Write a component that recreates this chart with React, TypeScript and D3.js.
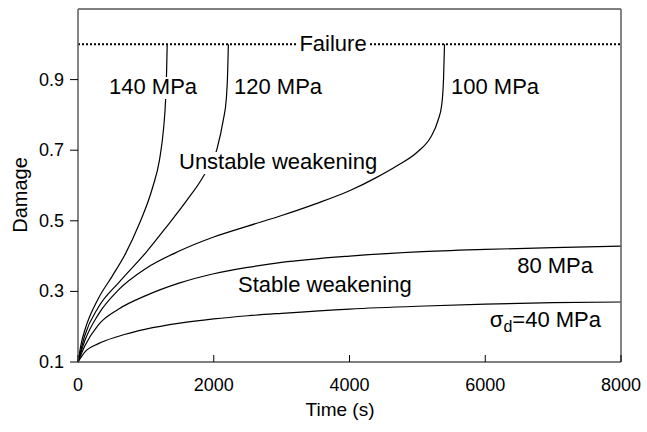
import * as d3 from 'd3'

const W = 647
const H = 432

// time (s) / damage pairs, one array per stress level
const t40 = [0, 100, 300, 600, 1000, 1500, 2000, 2500, 3000, 4000, 5000, 6000, 7000, 8000]
const d40 = [0.1, 0.128, 0.152, 0.173, 0.193, 0.21, 0.222, 0.231, 0.238, 0.25, 0.258, 0.264, 0.268, 0.27]

const t80 = [0, 100, 300, 600, 1000, 1500, 2000, 2500, 3000, 4000, 5000, 6000, 7000, 8000]
const d80 = [0.1, 0.145, 0.205, 0.25, 0.288, 0.324, 0.35, 0.368, 0.382, 0.4, 0.412, 0.419, 0.424, 0.428]

const t100 = [0, 100, 300, 600, 1000, 1500, 2000, 2500, 3000, 3500, 4000, 4400, 4700, 5000, 5200, 5300, 5360, 5385, 5400]
const d100 = [0.1, 0.16, 0.235, 0.305, 0.365, 0.415, 0.454, 0.485, 0.515, 0.548, 0.585, 0.623, 0.656, 0.695, 0.738, 0.782, 0.83, 0.9, 1.0]

const t120 = [0, 100, 300, 600, 1000, 1300, 1600, 1850, 2050, 2140, 2185, 2205, 2215]
const d120 = [0.1, 0.175, 0.255, 0.325, 0.41, 0.482, 0.557, 0.627, 0.705, 0.785, 0.845, 0.92, 1.0]

const t140 = [0, 50, 100, 300, 500, 700, 900, 1100, 1200, 1260, 1290, 1305, 1314]
const d140 = [0.1, 0.155, 0.19, 0.28, 0.342, 0.407, 0.49, 0.595, 0.672, 0.76, 0.84, 0.92, 1.0]

const failure = 1.0
const xTicks = [0, 2000, 4000, 6000, 8000]
const yTicks = [0.1, 0.3, 0.5, 0.7, 0.9]

const series = [
  { t: t40, d: d40 },
  { t: t80, d: d80 },
  { t: t100, d: d100 },
  { t: t120, d: d120 },
  { t: t140, d: d140 },
]

const FONT = '"Liberation Sans", Arial, sans-serif'

export default function App() {
  const left = 78, right = 621, top = 9, bottom = 362
  const x = d3.scaleLinear().domain([0, 8000]).range([left, right])
  const y = d3.scaleLinear().domain([0.1, 1.1]).range([bottom, top])

  const line = d3.line<[number, number]>()
    .x(p => x(p[0]))
    .y(p => y(p[1]))
    .curve(d3.curveMonotoneX)

  return (
    <svg width={W} height={H} style={{ position: 'absolute', left: 0, top: 0, background: '#fff' }}
      fontFamily={FONT}>
      <rect x={0} y={0} width={W} height={H} fill="#fff" />

      {/* curves */}
      {series.map((s, i) => (
        <path key={i} d={line(s.t.map((v, j) => [v, s.d[j]] as [number, number])) ?? ''}
          fill="none" stroke="#000" strokeWidth={1.2} />
      ))}

      {/* failure line */}
      <line x1={x(0)} x2={x(8000)} y1={y(failure)} y2={y(failure)}
        stroke="#000" strokeWidth={2} strokeDasharray="2 2" />
      <rect x={297} y={y(failure) - 10} width={72} height={20} fill="#fff" />
      <text x={333} y={y(failure) + 7} textAnchor="middle" fontSize={22}>Failure</text>

      {/* frame */}
      <line x1={left} x2={right} y1={top} y2={top} stroke="#000" strokeWidth={1.2} />
      <line x1={left} x2={right} y1={bottom} y2={bottom} stroke="#000" strokeWidth={1.2} />
      <line x1={left} x2={left} y1={top} y2={bottom} stroke="#666" strokeWidth={1.6} />
      <line x1={right} x2={right} y1={top} y2={bottom} stroke="#666" strokeWidth={1.6} />

      {/* y ticks */}
      {yTicks.map(v => (
        <g key={v}>
          <line x1={left - 8} x2={left} y1={y(v)} y2={y(v)} stroke="#000" strokeWidth={1} />
          <text x={left - 14} y={y(v) + 6} textAnchor="end" fontSize={18}>{v.toFixed(1)}</text>
        </g>
      ))}

      {/* x ticks */}
      {xTicks.map(v => (
        <g key={v}>
          <line x1={x(v)} x2={x(v)} y1={bottom} y2={bottom - 7} stroke="#000" strokeWidth={1} />
          <text x={x(v)} y={bottom + 29} textAnchor="middle" fontSize={18}>{v}</text>
        </g>
      ))}

      <text x={340} y={416} textAnchor="middle" fontSize={19}>Time (s)</text>
      <text transform={`translate(27, 195) rotate(-90)`} textAnchor="middle" fontSize={20}>Damage</text>

      {/* annotations (filled boxes hide the curves behind them) */}
      <rect x={107} y={77} width={92} height={22} fill="#fff" />
      <text x={109} y={94} fontSize={22}>140 MPa</text>
      <text x={234} y={94} fontSize={22}>120 MPa</text>
      <text x={451} y={94} fontSize={22}>100 MPa</text>
      <rect x={178} y={152} width={200} height={22} fill="#fff" />
      <text x={179} y={169} fontSize={22}>Unstable weakening</text>
      <text x={238} y={292} fontSize={22}>Stable weakening</text>
      <text x={593} y={273} textAnchor="end" fontSize={22}>80 MPa</text>
      <text x={601} y={327} textAnchor="end" fontSize={22}>
        σ<tspan fontSize={16} dy={5}>d</tspan><tspan dy={-5}>=40 MPa</tspan>
      </text>
    </svg>
  )
}
